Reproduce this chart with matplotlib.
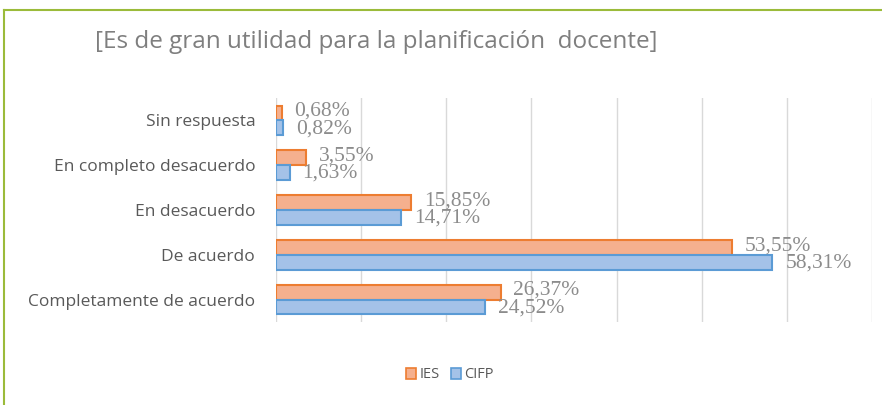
import matplotlib
matplotlib.use("Agg")
import matplotlib.pyplot as plt
import numpy as np
from matplotlib.patches import Rectangle
from matplotlib.lines import Line2D

categories = ["Sin respuesta", "En completo desacuerdo", "En desacuerdo",
              "De acuerdo", "Completamente de acuerdo"]
ies = [0.68, 3.55, 15.85, 53.55, 26.37]
cifp = [0.82, 1.63, 14.71, 58.31, 24.52]
ies_labels = ["0,68%", "3,55%", "15,85%", "53,55%", "26,37%"]
cifp_labels = ["0,82%", "1,63%", "14,71%", "58,31%", "24,52%"]
series_names = ["IES", "CIFP"]
title = "[Es de gran utilidad para la planificación  docente]"

fig = plt.figure(figsize=(8.82, 4.05), dpi=100)
W, H = 882, 405
ax = fig.add_axes([276 / W, 1 - 322 / H, (872 - 276) / W, (322 - 98) / H])

y = np.arange(len(categories))
bh = 0.33
ax.barh(y - bh / 2, ies, height=bh, color="#F5B08E", edgecolor="#ED7D31", linewidth=1.5, zorder=3)
ax.barh(y + bh / 2, cifp, height=bh, color="#A4C2E8", edgecolor="#5B9BD5", linewidth=1.5, zorder=3)

for yi, v, lab in zip(y, ies, ies_labels):
    ax.text(v + 1.5, yi - bh / 2 - 0.04, lab, va="center", ha="left", fontsize=15.5,
            family="Liberation Serif", color="#8C8C8C", zorder=4)
for yi, v, lab in zip(y, cifp, cifp_labels):
    ax.text(v + 1.5, yi + bh / 2 + 0.02, lab, va="center", ha="left", fontsize=15.5,
            family="Liberation Serif", color="#8C8C8C", zorder=4)

ax.set_xlim(0, 70)
ax.set_ylim(len(categories) - 0.5, -0.5)
ax.set_xticks(np.arange(0, 71, 10))
ax.set_xticklabels([])
ax.tick_params(axis="x", length=0)
ax.tick_params(axis="y", length=0, pad=15)
ax.set_yticks(y)
ax.set_yticklabels(categories, fontsize=12.5, color="#595959", family="Open Sans")
ax.grid(axis="x", color="#D9D9D9", linewidth=1, zorder=0)
for s in ax.spines.values():
    s.set_visible(False)

fig.text(95 / W, 1 - 42 / H, title, fontsize=17.5, color="#7F7F7F", family="Open Sans",
         va="center", ha="left")

handles = [Rectangle((0, 0), 1, 1, facecolor="#F5B08E", edgecolor="#ED7D31", linewidth=1.2),
           Rectangle((0, 0), 1, 1, facecolor="#A4C2E8", edgecolor="#5B9BD5", linewidth=1.2)]
leg = fig.legend(handles, series_names, loc="center", bbox_to_anchor=(450 / W, 1 - 375 / H),
                 ncol=2, frameon=False, handlelength=0.7, handleheight=0.7,
                 handletextpad=0.2, columnspacing=0.8, prop={"family": "Open Sans", "size": 10.5})
for t in leg.get_texts():
    t.set_color("#595959")

# frame border (green)
fig.add_artist(Line2D([4 / W, 1], [1 - 10 / H, 1 - 10 / H], color="#9BBB3A", linewidth=1.5))
fig.add_artist(Line2D([4 / W, 4 / W], [0, 1 - 10 / H], color="#9BBB3A", linewidth=1.5))

fig.savefig("out.png", dpi=100)
